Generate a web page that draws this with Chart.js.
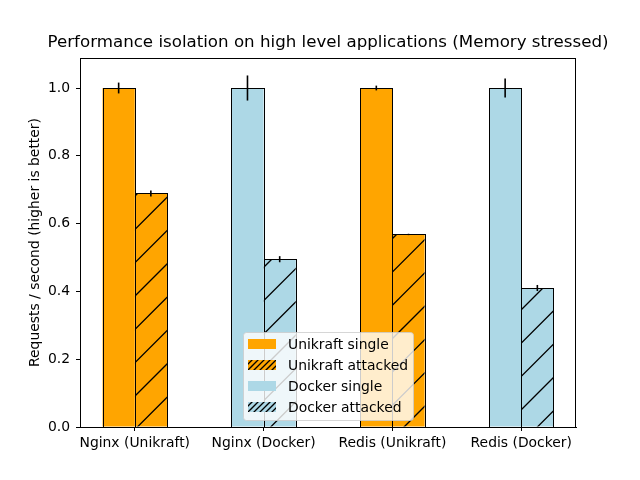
<!DOCTYPE html>
<html><head><meta charset="utf-8">
<script src="https://cdn.jsdelivr.net/npm/chart.js@4/dist/chart.umd.min.js"></script>
<style>html,body{margin:0;padding:0;background:#fff}#wrap{width:640px;height:480px}</style>
</head><body><div id="wrap"><canvas id="c" width="640" height="480"></canvas></div>
<script>
const categories = ['Nginx (Unikraft)', 'Nginx (Docker)', 'Redis (Unikraft)', 'Redis (Docker)'];
const singleValues = [1.0, 1.0, 1.0, 1.0];
const singleErrors = [0.016, 0.037, 0.007, 0.028];
const attackedValues = [0.689, 0.495, 0.568, 0.41];
const attackedErrors = [0.009, 0.009, 0.002, 0.009];
const yTicks = [0.0, 0.2, 0.4, 0.6, 0.8, 1.0];
const legendLabels = ['Unikraft single', 'Unikraft attacked', 'Docker single', 'Docker attacked'];
const ORANGE = '#FFA500', LIGHTBLUE = '#ADD8E6';
const groupColors = [ORANGE, LIGHTBLUE, ORANGE, LIGHTBLUE];
const FONT = 'DejaVu Sans';

function hatch(color, tile, n, phase, lw) {
  const cv = document.createElement('canvas');
  cv.width = tile; cv.height = tile;
  const g = cv.getContext('2d');
  g.fillStyle = color; g.fillRect(0, 0, tile, tile);
  g.strokeStyle = '#000'; g.lineWidth = lw;
  const sp = tile / n;
  g.beginPath();
  for (let c = (phase % sp) - sp * 2; c <= 2 * tile + sp; c += sp) {
    g.moveTo(c + 2, -2); g.lineTo(c - tile - 2, tile + 2);
  }
  g.stroke();
  return g.createPattern(cv, 'repeat');
}

const errorBars = {
  id: 'errorBars',
  afterDatasetsDraw(chart) {
    const ctx = chart.ctx, y = chart.scales.y;
    ctx.save();
    // crisp bar outlines
    ctx.strokeStyle = '#000'; ctx.lineWidth = 1;
    [0, 1].forEach(di => {
      chart.getDatasetMeta(di).data.forEach(bar => {
        const l = Math.round(bar.x - bar.width / 2), rr = Math.round(bar.x + bar.width / 2);
        const t = Math.round(bar.y), b = Math.round(bar.base);
        ctx.strokeRect(l + 0.5, t + 0.5, rr - l, b - t);
      });
    });
    const sets = [[singleValues, singleErrors], [attackedValues, attackedErrors]];
    ctx.lineWidth = 1.6;
    sets.forEach(([vals, errs], di) => {
      const meta = chart.getDatasetMeta(di);
      meta.data.forEach((bar, i) => {
        ctx.beginPath();
        ctx.moveTo(bar.x, y.getPixelForValue(vals[i] + errs[i]));
        ctx.lineTo(bar.x, y.getPixelForValue(vals[i] - errs[i]));
        ctx.stroke();
      });
    });
    // frame
    const a = chart.chartArea;
    ctx.lineWidth = 1; ctx.strokeStyle = '#000';
    ctx.strokeRect(Math.round(a.left) + 0.5, Math.round(a.top) + 0.5, Math.round(a.right - a.left) - 1, Math.round(a.bottom - a.top));
    // legend
    const lx = 243.5, ly = 332.5, lw = 170, lh = 88, r = 3;
    ctx.beginPath();
    ctx.moveTo(lx + r, ly); ctx.lineTo(lx + lw - r, ly); ctx.arcTo(lx + lw, ly, lx + lw, ly + r, r);
    ctx.lineTo(lx + lw, ly + lh - r); ctx.arcTo(lx + lw, ly + lh, lx + lw - r, ly + lh, r);
    ctx.lineTo(lx + r, ly + lh); ctx.arcTo(lx, ly + lh, lx, ly + lh - r, r);
    ctx.lineTo(lx, ly + r); ctx.arcTo(lx, ly, lx + r, ly, r);
    ctx.closePath();
    ctx.fillStyle = 'rgba(255,255,255,0.8)'; ctx.fill();
    ctx.strokeStyle = 'rgba(204,204,204,0.8)'; ctx.stroke();
    const fills = [ORANGE, hatch(ORANGE, 18, 3, 0, 1.3), LIGHTBLUE, hatch(LIGHTBLUE, 18, 3, 0, 1.3)];
    const rows = [344, 365, 386, 407];
    ctx.font = '13.9px "' + FONT + '"';
    ctx.textBaseline = 'middle'; ctx.textAlign = 'left';
    legendLabels.forEach((t, i) => {
      ctx.fillStyle = fills[i];
      ctx.fillRect(248, rows[i] - 5, 28, 10);
      ctx.fillStyle = '#000';
      ctx.fillText(t, 288, rows[i] + 1);
    });
    ctx.restore();
  }
};

const attackedFills = groupColors.map(c => hatch(c, 100, 3, 31, 1.35));

new Chart(document.getElementById('c').getContext('2d'), {
  type: 'bar',
  data: {
    datasets: [
      { label: 'single', data: singleValues.map((v, i) => ({ x: i, y: v })), backgroundColor: groupColors,
        borderWidth: 0, barPercentage: 1, categoryPercentage: 0.5 },
      { label: 'attacked', data: attackedValues.map((v, i) => ({ x: i, y: v })), backgroundColor: attackedFills,
        borderWidth: 0, barPercentage: 1, categoryPercentage: 0.5 }
    ]
  },
  options: {
    responsive: false, animation: false, devicePixelRatio: 1,
    layout: { padding: { left: 16, right: 0, top: 0, bottom: 0 } },
    plugins: {
      legend: { display: false }, tooltip: { enabled: false },
      title: { display: true, text: 'Performance isolation on high level applications (Memory stressed)',
        fullSize: true, color: '#000', font: { family: FONT, size: 16.67, weight: 'normal', lineHeight: 1.2 },
        padding: { top: 33, bottom: 5 } }
    },
    scales: {
      x: {
        type: 'linear', min: -0.425, max: 3.425, offset: false,
        afterBuildTicks: s => { s.ticks = categories.map((_, i) => ({ value: i })); },
        afterFit: s => { s.height = 53; },
        ticks: { autoSkip: false, maxRotation: 0, padding: 4, color: '#000',
          font: { family: FONT, size: 13.9, lineHeight: 1.2 }, callback: v => categories[v] },
        grid: { drawOnChartArea: false, offset: false, tickLength: 4, tickColor: '#000', color: '#000' },
        border: { color: '#000', width: 1 }
      },
      y: {
        min: 0, max: 1.0885,
        afterBuildTicks: s => { s.ticks = yTicks.map(v => ({ value: v })); },
        afterFit: s => { s.width = 64; },
        ticks: { autoSkip: false, padding: 6, color: '#000',
          font: { family: FONT, size: 13.9, lineHeight: 1.2 }, callback: v => Number(v).toFixed(1) },
        grid: { drawOnChartArea: false, tickLength: 4, tickColor: '#000', color: '#000' },
        border: { color: '#000', width: 1 },
        title: { display: true, text: 'Requests / second (higher is better)', color: '#000',
          font: { family: FONT, size: 13.9, lineHeight: 1.2 }, padding: { top: 10.7, bottom: 0 } }
      },
      yRight: {
        type: 'linear', position: 'right', display: true, min: 0, max: 1.0885,
        afterFit: s => { s.width = 64; },
        ticks: { display: false }, grid: { display: false }, border: { display: false }
      }
    }
  },
  plugins: [errorBars]
});
</script></body></html>
